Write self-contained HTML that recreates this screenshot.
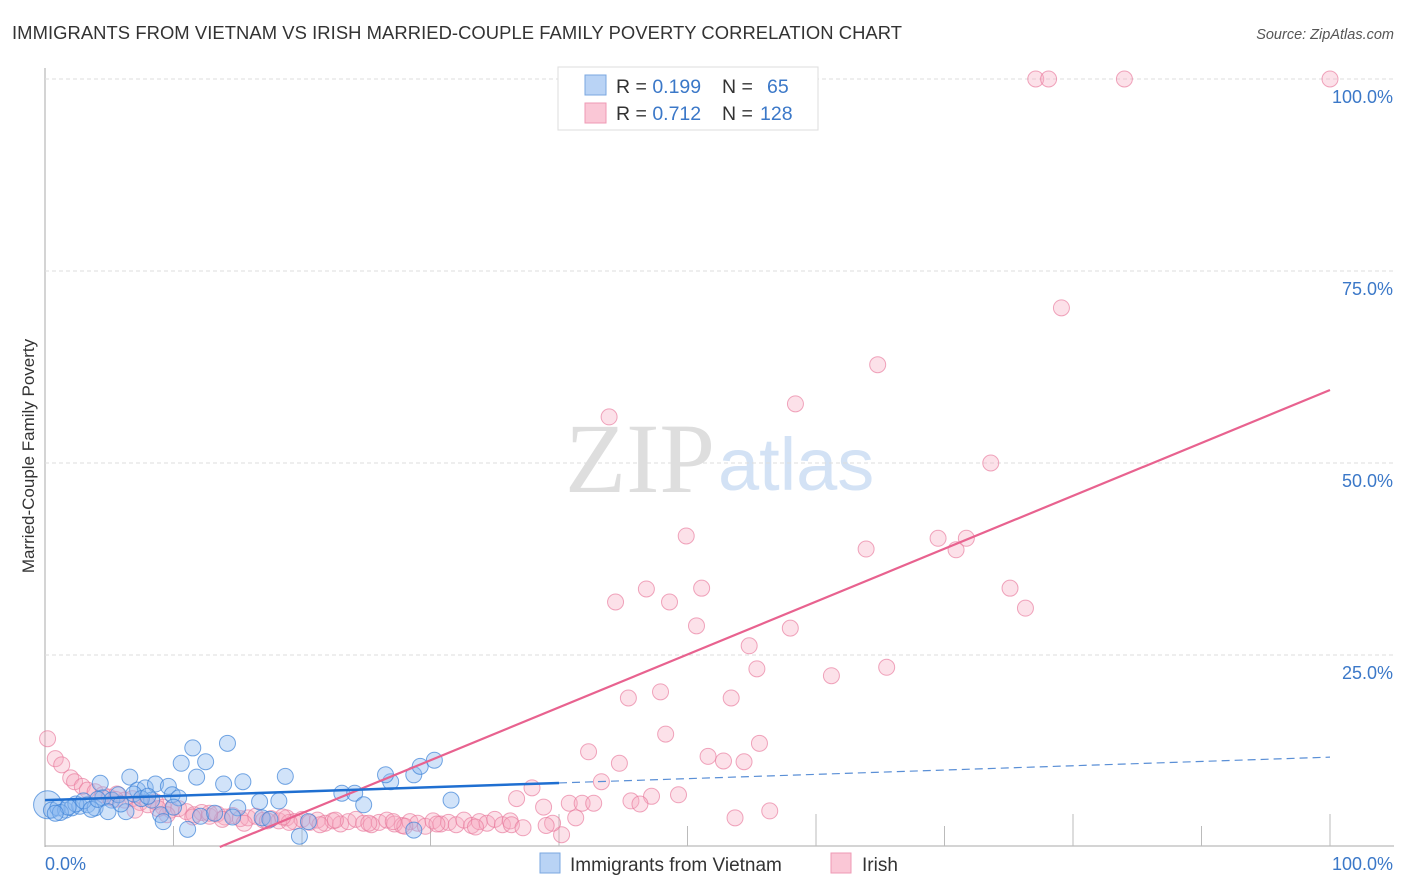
<!DOCTYPE html>
<html><head><meta charset="utf-8">
<style>
body{margin:0;background:#fff;font-family:"Liberation Sans",sans-serif;}
#wrap{position:relative;width:1406px;height:892px;overflow:hidden;}
</style></head>
<body>
<div id="wrap">
<svg id="chart" width="1406" height="892" xmlns="http://www.w3.org/2000/svg">
  <text x="12" y="39" font-size="18.4" fill="#333" textLength="890">IMMIGRANTS FROM VIETNAM VS IRISH MARRIED-COUPLE FAMILY POVERTY CORRELATION CHART</text>
  <text x="1394" y="39" font-size="14.5" fill="#555" font-style="italic" text-anchor="end">Source: ZipAtlas.com</text>
  <text x="715" y="492" font-size="100" fill="#dedede" font-family="Liberation Serif,serif" text-anchor="end">ZIP</text>
  <text x="718" y="490" font-size="74" fill="#d3e2f5">atlas</text>
  <text transform="translate(34,456) rotate(-90)" font-size="17" fill="#333" text-anchor="middle">Married-Couple Family Poverty</text>
  <g id="grid"></g>
  <g id="pts"></g>
  <g id="lines"></g>
  <g>
    <rect x="558" y="67" width="260" height="63" fill="#fff" stroke="#ddd"/>
    <rect x="585" y="75" width="21" height="20" fill="#b9d3f5" stroke="#7aa7e0"/>
    <rect x="585" y="103" width="21" height="20" fill="#fac7d6" stroke="#ef9ab4"/>
    <text x="616" y="93" font-size="19.5" fill="#333">R = <tspan fill="#3b78c8">0.199</tspan><tspan x="722">N = </tspan><tspan x="767" fill="#3b78c8">65</tspan></text>
    <text x="616" y="120" font-size="19.5" fill="#333">R = <tspan fill="#3b78c8">0.712</tspan><tspan x="722">N = </tspan><tspan x="760" fill="#3b78c8">128</tspan></text>
  </g>
  <g>
    <rect x="540" y="853" width="20" height="20" fill="#b9d3f5" stroke="#7aa7e0"/>
    <text x="570" y="871" font-size="19" fill="#333">Immigrants from Vietnam</text>
    <rect x="831" y="853" width="20" height="20" fill="#fac7d6" stroke="#ef9ab4"/>
    <text x="862" y="871" font-size="19" fill="#333">Irish</text>
  </g>
</svg>
</div>
<script>
const yTicks=[25,50,75,100];
const yTickLabels=["25.0%","50.0%","75.0%","100.0%"];
const xTickLabels=["0.0%","100.0%"];
const blueX=[0.2,0.5,1.0,1.6,2.1,2.7,3.3,3.9,4.3,4.5,5.2,5.7,6.3,6.6,7.2,7.8,8.6,8.3,9.0,9.2,9.6,9.9,10.4,10.6,11.1,11.5,11.8,12.5,14.2,13.9,15.0,15.4,16.7,18.2,18.7,19.8,16.9,23.1,24.1,24.8,26.9,26.5,28.7,29.2,30.3,31.6,28.7,4.9,1.2,2.4,3.0,5.9,6.9,7.5,8.0,10.0,12.1,13.2,14.6,17.5,20.5,1.8,3.6,4.1,0.8];
const blueY=[5.5,4.8,5.1,4.8,5.1,5.3,5.5,5.1,8.3,6.4,6.1,6.8,4.6,9.1,7.4,7.7,8.2,6.1,4.2,3.3,7.9,6.8,6.4,10.9,2.3,12.9,9.1,11.1,13.5,8.2,5.1,8.5,5.9,6.0,9.2,1.4,3.8,7.0,7.0,5.5,8.5,9.4,9.4,10.5,11.3,6.1,2.2,4.6,4.5,5.6,6.0,5.6,6.9,6.3,6.6,5.2,4.0,4.4,3.9,3.6,3.3,5.2,4.9,6.2,4.4];
const pinkX=[77.1,78.1,84.0,100,79.1,64.8,58.4,43.9,73.6,49.9,69.5,71.7,63.9,70.9,46.8,51.1,75.1,44.4,48.6,76.3,50.7,58.0,54.8,55.4,65.5,61.2,47.9,45.4,53.4,48.3,55.6,42.3,51.6,44.7,52.8,54.4,43.3,37.9,36.7,49.3,47.2,45.6,46.3,40.8,41.8,42.7,38.8,53.7,56.4,40.2,39.5,41.3,
0.2,0.8,1.3,2.0,2.3,2.9,3.3,3.9,4.5,5.0,5.6,6.2,6.8,7.4,8.0,8.6,9.2,9.8,10.4,11.0,11.6,12.2,12.8,13.4,14.0,14.6,15.2,15.8,16.4,17.0,17.6,18.2,18.8,19.4,20.0,20.6,21.2,21.8,22.4,23.0,23.6,24.2,24.8,25.4,26.0,26.6,27.2,27.8,28.4,29.0,29.6,30.2,30.8,31.4,32.0,32.6,33.2,33.8,34.4,35.0,35.6,36.2,
7.0,9.5,11.5,13.8,15.5,17.3,19.0,21.4,25.2,28.0,30.5,33.5,36.3,37.2,39.0,5.5,8.8,12.8,18.5,22.6,27.1];
const pinkY=[100,100,100,100,70.2,62.8,57.7,56.0,50.0,40.5,40.2,40.2,38.8,38.7,33.6,33.7,33.7,31.9,31.9,31.1,28.8,28.5,26.2,23.2,23.4,22.3,20.2,19.4,19.4,14.7,13.5,12.4,11.8,10.9,11.2,11.1,8.5,7.7,6.3,6.8,6.6,6.0,5.6,5.7,5.7,5.7,5.2,3.8,4.7,1.6,3.1,3.8,
14.1,11.5,10.7,9.0,8.5,7.9,7.4,7.2,6.8,6.5,6.9,6.1,6.3,5.8,5.5,5.9,5.2,4.8,5.0,4.6,4.2,4.5,4.0,4.3,3.9,4.1,3.7,3.8,4.0,3.5,3.7,3.4,3.8,3.3,3.6,3.2,3.5,3.1,3.4,3.0,3.3,3.6,3.1,2.9,3.2,3.5,3.0,2.8,3.3,3.1,2.7,3.4,3.0,3.2,2.9,3.5,2.8,3.3,3.1,3.6,2.9,3.4,
4.8,4.2,3.9,3.6,3.1,3.4,3.2,2.9,3.1,2.7,3.0,2.6,2.9,2.5,2.8,6.2,5.0,4.4,3.9,3.5,3.3];
const blueFit=[6.1,11.7];
const blueSolidEnd=40;
const pinkFit=[13.6,0,100,59.5];
const X0=45,X1=1330,Yb=847,Yt=79;
const sx=v=>X0+v*(X1-X0)/100;
const sy=v=>Yb-v*(Yb-Yt)/100;
const NS="http://www.w3.org/2000/svg";
function mk(tag,attrs,parent){const e=document.createElementNS(NS,tag);for(const k in attrs)e.setAttribute(k,attrs[k]);parent.appendChild(e);return e;}
const grid=document.getElementById('grid');
const axY=mk('line',{x1:45,y1:68,x2:45,y2:847,stroke:'#aaa'},grid);


const axX=mk('line',{x1:45,y1:846,x2:1394,y2:846,stroke:'#aaa'},grid);


yTicks.forEach((t,i)=>{
  const g=mk('line',{x1:45,y1:sy(t),x2:1394,y2:sy(t),stroke:'#ddd','stroke-dasharray':'4,3'},grid);
  
  
  const l=mk('text',{x:1393,y:sy(t)+24,'font-size':18,fill:'#3b78c8','text-anchor':'end'},grid);
  l.textContent=yTickLabels[i];
  
  
});
for(let i=1;i<=10;i++){
  const h=(i%2===0)?32:20;
  const tk=mk('line',{x1:sx(i*10),y1:846-h,x2:sx(i*10),y2:846,stroke:'#bbb'},grid);
  
  
}
[[0,'start',45],[100,'end',1393]].forEach((d,i)=>{
  const l=mk('text',{x:d[2],y:870,'font-size':18,fill:'#3b78c8','text-anchor':d[1]},grid);
  l.textContent=xTickLabels[i];
  
  
});
const pts=document.getElementById('pts');
pinkX.forEach((x,i)=>{
  const c=mk('circle',{cx:sx(x),cy:sy(pinkY[i]),r:8,fill:'rgba(247,168,192,0.35)',stroke:'rgba(232,120,155,0.65)','stroke-width':1},pts);
  
  
});
blueX.forEach((x,i)=>{
  const c=mk('circle',{cx:sx(x),cy:sy(blueY[i]),r:i===0?14:8,fill:'rgba(140,185,240,0.4)',stroke:'rgba(60,130,215,0.7)','stroke-width':1},pts);
  
  
});
const lines=document.getElementById('lines');
const pl=mk('line',{x1:sx(pinkFit[0]),y1:sy(pinkFit[1]),x2:sx(pinkFit[2]),y2:sy(pinkFit[3]),stroke:'#e8628f','stroke-width':2.2},lines);


const byAt=x=>blueFit[0]+(blueFit[1]-blueFit[0])*x/100;
const bl=mk('line',{x1:sx(0),y1:sy(byAt(0)),x2:sx(blueSolidEnd),y2:sy(byAt(blueSolidEnd)),stroke:'#1f6fd1','stroke-width':2.5},lines);


const bd=mk('line',{x1:sx(blueSolidEnd),y1:sy(byAt(blueSolidEnd)),x2:sx(100),y2:sy(byAt(100)),stroke:'#5a8fd6','stroke-width':1.2,'stroke-dasharray':'8,5'},lines);


</script>
</body></html>
